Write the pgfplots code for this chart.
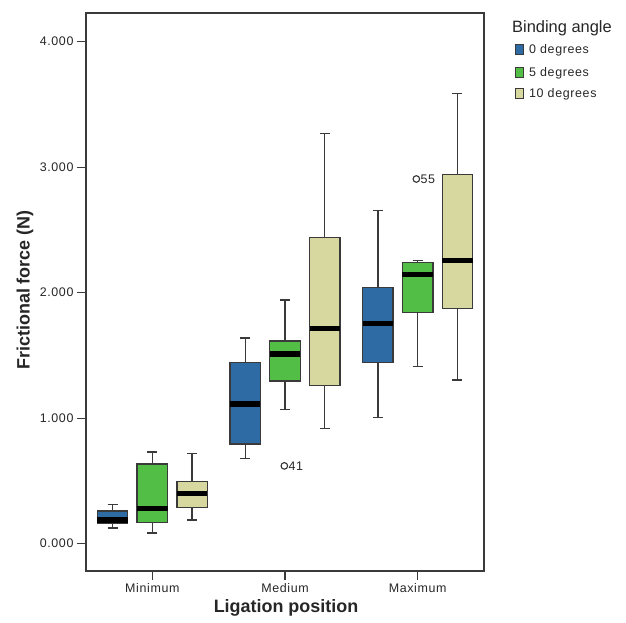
\documentclass[border=0pt]{standalone}
\usepackage{fontspec}
\setmainfont{Liberation Sans}
\newfontfamily\tickfont[LetterSpace=5]{Liberation Sans}
\usepackage{pgfplots}
\pgfplotsset{compat=1.18}
\usepgfplotslibrary{statistics}

\definecolor{c0}{HTML}{2E6BA5}
\definecolor{c5}{HTML}{52BE45}
\definecolor{c10}{HTML}{D7D89F}
\definecolor{edge}{HTML}{3A3A3A}

\pgfplotsset{
  b0/.style={fill=c0, draw=edge, line width=1.3bp},
  b5/.style={fill=c5, draw=edge, line width=1.3bp},
  b10/.style={fill=c10, draw=edge, line width=1.3bp},
}

\begin{document}
\begin{tikzpicture}
\begin{axis}[
  at={(0bp,0bp)}, anchor=south west,
  scale only axis, width=398bp, height=558bp,
  xmin=-0.5, xmax=2.5, ymin=-0.2175, ymax=4.2287,
  axis line style={draw=edge, line width=1.3bp},
  xtick={0,1,2}, xticklabels={Minimum,Medium,Maximum},
  ytick={0,1,2,3,4}, yticklabels={0.000,1.000,2.000,3.000,4.000},
  tick align=outside, xtick pos=bottom, ytick pos=left,
  major tick length=9bp,
  tick style={draw=edge, line width=1.2bp},
  ticklabel style={font=\tickfont\fontsize{12.5}{14}\selectfont, text=black!85},
  boxplot/draw direction=y,
  boxplot/box extend=0.23,
  boxplot/whisker extend=0.075,
  boxplot/every median/.style={draw=black, line width=5.5bp},
  clip=false,
]
% Minimum
\addplot[b0, boxplot prepared={draw position=-0.3, lower whisker=0.125, lower quartile=0.163, median=0.187, upper quartile=0.26, upper whisker=0.314}] coordinates {};
\addplot[b5, boxplot prepared={draw position=0, lower whisker=0.085, lower quartile=0.17, median=0.279, upper quartile=0.635, upper whisker=0.731}] coordinates {};
\addplot[b10, boxplot prepared={draw position=0.3, lower whisker=0.19, lower quartile=0.287, median=0.40, upper quartile=0.494, upper whisker=0.72}] coordinates {};
% Medium
\addplot[b0, boxplot prepared={draw position=0.7, lower whisker=0.677, lower quartile=0.794, median=1.113, upper quartile=1.445, upper whisker=1.639}] coordinates {};
\addplot[b5, boxplot prepared={draw position=1, lower whisker=1.068, lower quartile=1.296, median=1.512, upper quartile=1.615, upper whisker=1.942}] coordinates {};
\addplot[b10, boxplot prepared={draw position=1.3, lower whisker=0.916, lower quartile=1.259, median=1.716, upper quartile=2.438, upper whisker=3.27}] coordinates {};
% Maximum
\addplot[b0, boxplot prepared={draw position=1.7, lower whisker=1.004, lower quartile=1.445, median=1.756, upper quartile=2.043, upper whisker=2.653}] coordinates {};
\addplot[b5, boxplot prepared={draw position=2, lower whisker=1.41, lower quartile=1.844, median=2.146, upper quartile=2.239, upper whisker=2.255}] coordinates {};
\addplot[b10, boxplot prepared={draw position=2.3, lower whisker=1.304, lower quartile=1.876, median=2.255, upper quartile=2.943, upper whisker=3.589}] coordinates {};
% outliers
\addplot[only marks, mark=o, mark size=3.3bp, mark options={draw=black!80, line width=1.1bp},
  point meta=explicit symbolic, nodes near coords,
  every node near coord/.append style={anchor=west, font=\tickfont\fontsize{12.5}{14}\selectfont, text=black!85, inner sep=0pt, xshift=3.8bp}]
  coordinates {(0.995,0.62) [41] (1.99,2.906) [55]};
\end{axis}

\node[rotate=90, font=\bfseries\fontsize{18}{20}\selectfont, text=black!85] at (-61bp,281bp) {Frictional force (N)};
\node[font=\bfseries\fontsize{18}{20}\selectfont, text=black!85] at (200bp,-37bp) {Ligation position};

\node[anchor=west, inner sep=0pt, font=\fontsize{16.5}{18}\selectfont, text=black!85] at (426bp,543bp) {Binding angle};
\filldraw[fill=c0, draw=edge, line width=1bp] (429bp,516bp) rectangle (437bp,526bp);
\filldraw[fill=c5, draw=edge, line width=1bp] (429bp,493bp) rectangle (437bp,503bp);
\filldraw[fill=c10, draw=edge, line width=1bp] (429bp,472bp) rectangle (437bp,482bp);
\node[anchor=west, inner sep=0pt, font=\tickfont\fontsize{12.5}{14}\selectfont, text=black!85] at (443bp,521bp) {0 degrees};
\node[anchor=west, inner sep=0pt, font=\tickfont\fontsize{12.5}{14}\selectfont, text=black!85] at (443bp,498bp) {5 degrees};
\node[anchor=west, inner sep=0pt, font=\tickfont\fontsize{12.5}{14}\selectfont, text=black!85] at (443bp,477bp) {10 degrees};

\pgfresetboundingbox
\path[use as bounding box] (-86bp,-52bp) rectangle (540bp,571bp);
\end{tikzpicture}
\end{document}
